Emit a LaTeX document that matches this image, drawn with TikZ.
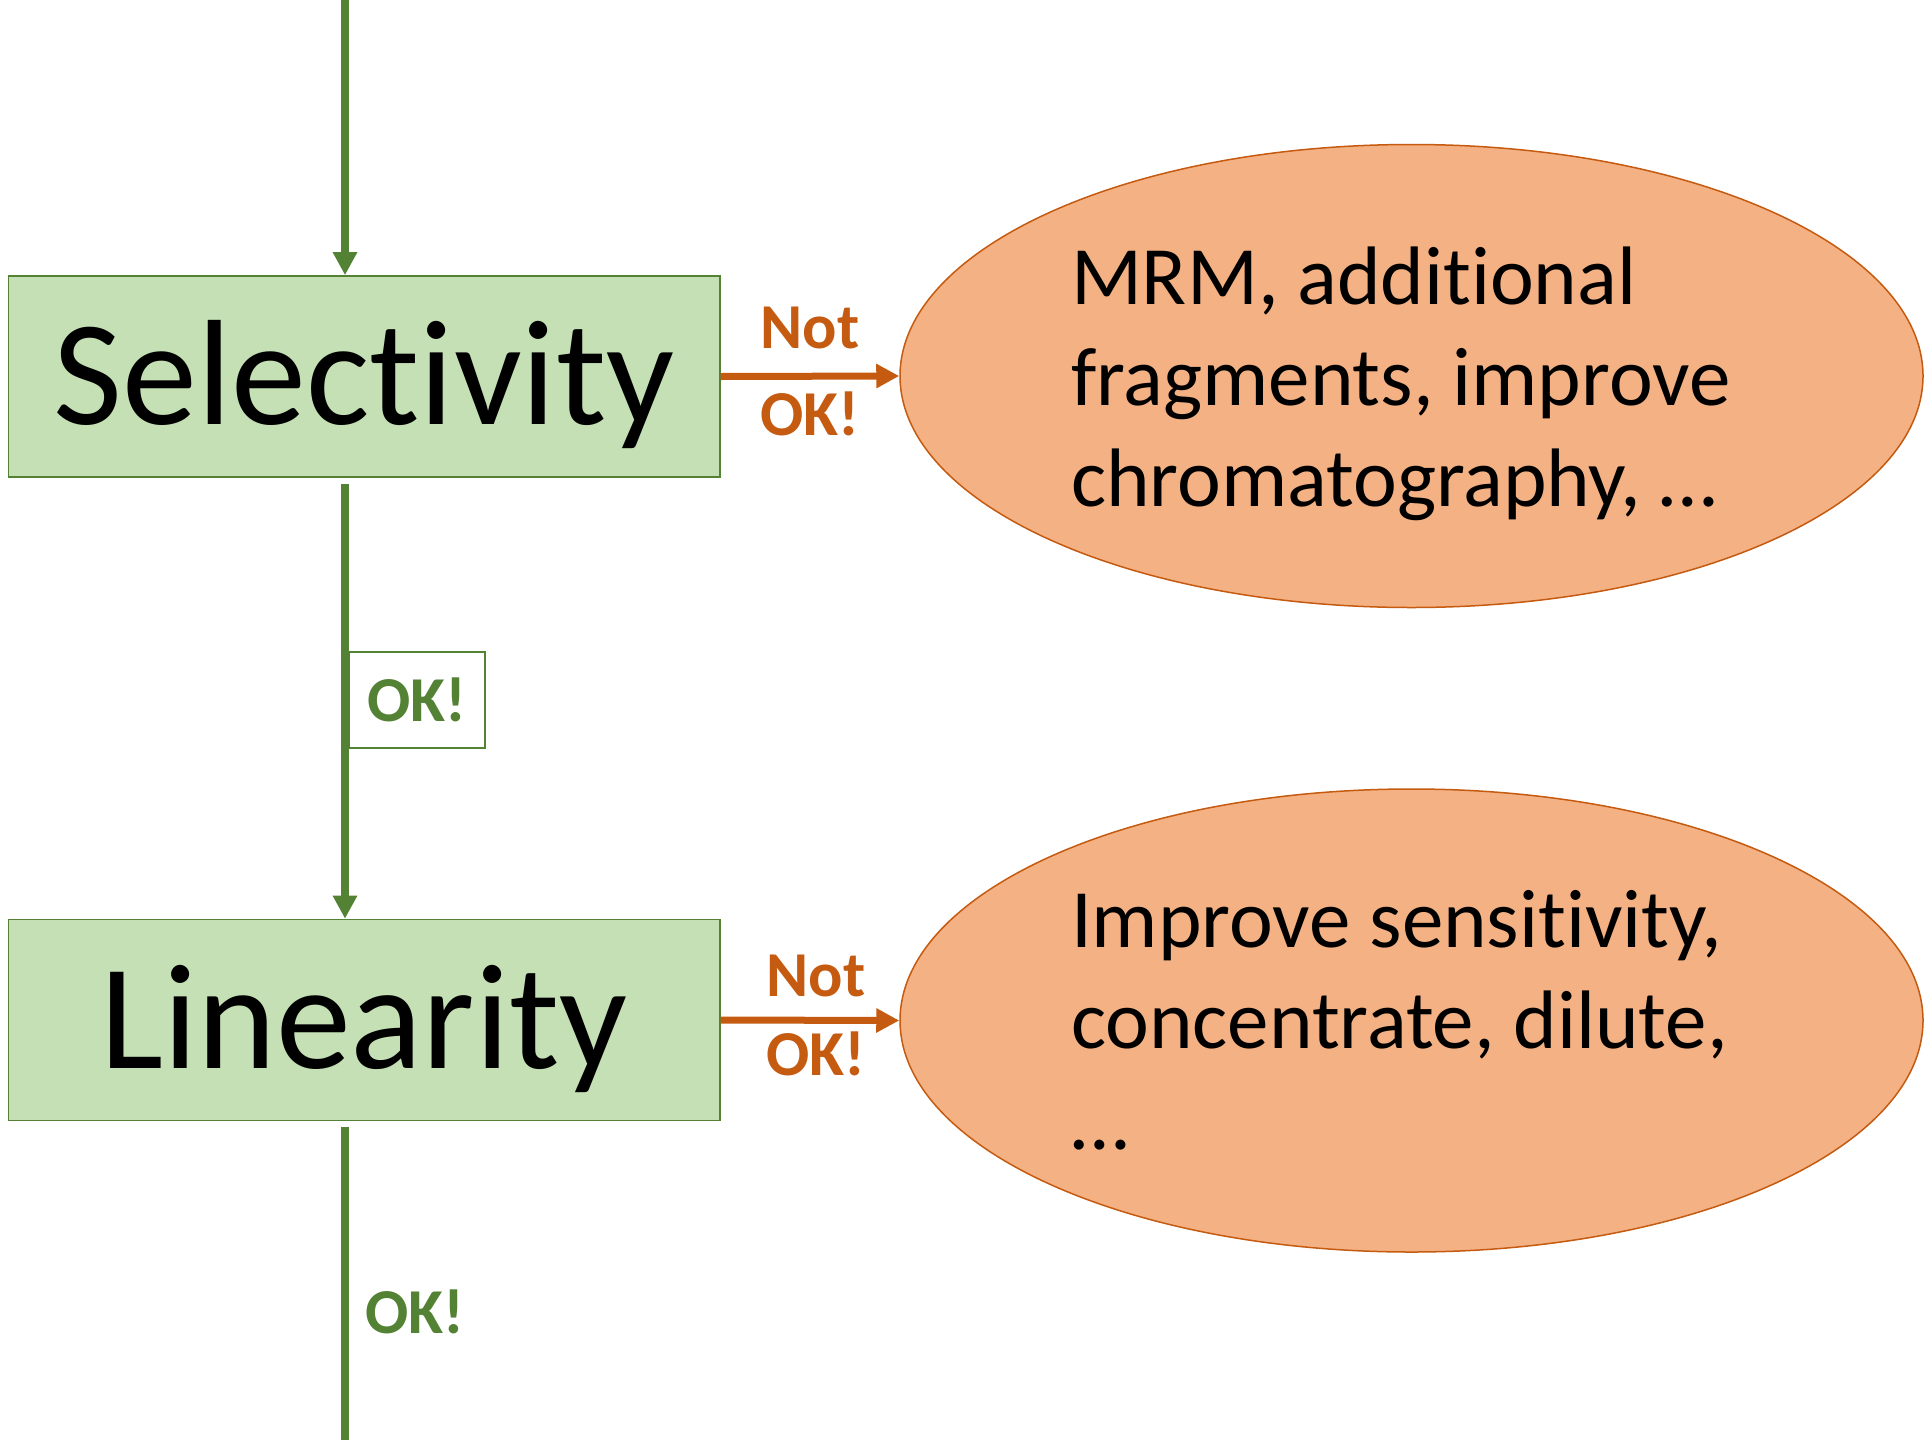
\documentclass[tikz,border=0pt]{standalone}
\usepackage{fontspec}
\setmainfont{Carlito}[Ligatures={NoCommon}]
\usetikzlibrary{shapes.geometric,arrows.meta}
\definecolor{gline}{HTML}{548235}
\definecolor{gfill}{HTML}{C5E0B4}
\definecolor{oline}{HTML}{C55A11}
\definecolor{ofill}{HTML}{F4B183}
\newcommand{\natspace}{\spaceskip=0pt\xspaceskip=0pt\relax}
\begin{document}
\begin{tikzpicture}[x=0.5pt,y=-0.5pt,
  stepbox/.style={draw=gline, line width=0.8pt, fill=gfill, minimum width=355.7pt, minimum height=100.5pt, inner sep=0pt, font=\fontsize{75}{90}\selectfont, text height=48.3pt, text depth=0pt},
  fixbox/.style={ellipse, draw=oline, line width=0.75pt, fill=ofill, minimum width=511.5pt, minimum height=231.5pt, inner sep=0pt, text width=340.5pt, align=left, font=\fontsize{41.5}{50.5}\selectfont},
  gflow/.style={draw=gline, line width=4pt, -{Triangle[length=11.5pt,width=11.5pt]}},
  gline/.style={draw=gline, line width=4pt},
  oflow/.style={draw=oline, line width=3.5pt, -{Triangle[length=11.5pt,width=11.5pt]}},
  glabel/.style={text=gline, font=\fontsize{32}{39}\bfseries\selectfont},
  olabel/.style={text=oline, font=\fontsize{32}{39}\bfseries\selectfont, inner sep=0pt},
]
\useasboundingbox (0,0) rectangle (1926,1440);
\node[stepbox] (sel) at (364,376.5) {Selectivity};
\node[stepbox] (lin) at (364,1020) {Linearity};
\node[fixbox] (fix1) at (1411.5,376) {\natspace\rule{0pt}{37pt}MRM, additional\\fragments, improve\\chromatography, …};
\node[fixbox] (fix2) at (1411.5,1020.5) {\natspace Improve sensitivity,\\concentrate, dilute,\\…};
\coordinate (top) at (345,0);
\coordinate (bottom) at (345,1440);
\draw[gflow] (top) -- (top |- sel.north);
\draw[gflow, shorten <=3pt] (sel.south -| top) -- (lin.north -| top);
\draw[gline, shorten <=3pt] (lin.south -| top) -- (bottom);
\node[draw=gline, line width=0.8pt, minimum width=68pt, minimum height=48pt, glabel] (ok1) at (417,700) {OK!};
\node[glabel] (ok2) at (415,1312) {OK!};
\draw[oflow] (sel.east) -- (fix1.west)
  node[midway, above, olabel, yshift=12pt] (n1) {Not}
  node[midway, below, olabel, yshift=-6pt] (k1) {OK!};
\draw[oflow] (lin.east) -- (fix2.west)
  node[midway, above, olabel, yshift=10pt, xshift=3pt] (n2) {Not}
  node[midway, below, olabel, yshift=-4pt, xshift=3pt] (k2) {OK!};
\end{tikzpicture}
\end{document}
